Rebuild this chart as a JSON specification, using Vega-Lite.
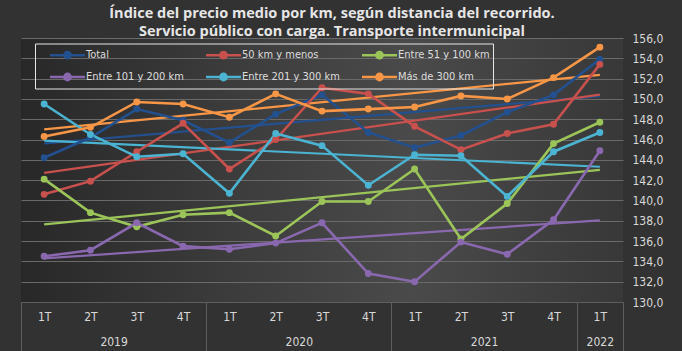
{
  "$schema": "https://vega.github.io/schema/vega-lite/v6.json",
  "width": 602,
  "height": 264,
  "autosize": {"type": "none"},
  "padding": {"left": 21, "top": 38, "right": 59, "bottom": 49},
  "background": "#323232",
  "view": {
    "stroke": null,
    "fill": {
      "gradient": "linear", "x1": 0, "x2": 1, "y1": 0, "y2": 0,
      "stops": [
        {"offset": 0, "color": "#282828"},
        {"offset": 0.35, "color": "#3c3c3c"},
        {"offset": 0.65, "color": "#4a4a4a"},
        {"offset": 1, "color": "#383838"}
      ]
    }
  },
  "title": {
    "text": ["Índice del precio medio por km, según distancia del recorrido.", "Servicio público con carga. Transporte intermunicipal"],
    "anchor": "middle",
    "frame": "group",
    "font": "Open Sans",
    "fontSize": 14.5,
    "fontWeight": "bold",
    "color": "#e6e6e6",
    "lineHeight": 18,
    "offset": 3,
    "dx": 10,
    "dy": 10
  },
  "datasets": {
    "indice": [
      {"t": 1, "trimestre": "1T", "anio": "2019", "serie": "Total", "valor": 144.2},
      {"t": 2, "trimestre": "2T", "anio": "2019", "serie": "Total", "valor": 146.2},
      {"t": 3, "trimestre": "3T", "anio": "2019", "serie": "Total", "valor": 149.0},
      {"t": 4, "trimestre": "4T", "anio": "2019", "serie": "Total", "valor": 147.9},
      {"t": 5, "trimestre": "1T", "anio": "2020", "serie": "Total", "valor": 145.7},
      {"t": 6, "trimestre": "2T", "anio": "2020", "serie": "Total", "valor": 148.5},
      {"t": 7, "trimestre": "3T", "anio": "2020", "serie": "Total", "valor": 150.4},
      {"t": 8, "trimestre": "4T", "anio": "2020", "serie": "Total", "valor": 146.7},
      {"t": 9, "trimestre": "1T", "anio": "2021", "serie": "Total", "valor": 145.2},
      {"t": 10, "trimestre": "2T", "anio": "2021", "serie": "Total", "valor": 146.4},
      {"t": 11, "trimestre": "3T", "anio": "2021", "serie": "Total", "valor": 148.7},
      {"t": 12, "trimestre": "4T", "anio": "2021", "serie": "Total", "valor": 150.4},
      {"t": 13, "trimestre": "1T", "anio": "2022", "serie": "Total", "valor": 153.9},
      {"t": 1, "trimestre": "1T", "anio": "2019", "serie": "50 km y menos", "valor": 140.6},
      {"t": 2, "trimestre": "2T", "anio": "2019", "serie": "50 km y menos", "valor": 141.9},
      {"t": 3, "trimestre": "3T", "anio": "2019", "serie": "50 km y menos", "valor": 144.8},
      {"t": 4, "trimestre": "4T", "anio": "2019", "serie": "50 km y menos", "valor": 147.6},
      {"t": 5, "trimestre": "1T", "anio": "2020", "serie": "50 km y menos", "valor": 143.1},
      {"t": 6, "trimestre": "2T", "anio": "2020", "serie": "50 km y menos", "valor": 146.0},
      {"t": 7, "trimestre": "3T", "anio": "2020", "serie": "50 km y menos", "valor": 151.1},
      {"t": 8, "trimestre": "4T", "anio": "2020", "serie": "50 km y menos", "valor": 150.5},
      {"t": 9, "trimestre": "1T", "anio": "2021", "serie": "50 km y menos", "valor": 147.3},
      {"t": 10, "trimestre": "2T", "anio": "2021", "serie": "50 km y menos", "valor": 145.0},
      {"t": 11, "trimestre": "3T", "anio": "2021", "serie": "50 km y menos", "valor": 146.6},
      {"t": 12, "trimestre": "4T", "anio": "2021", "serie": "50 km y menos", "valor": 147.5},
      {"t": 13, "trimestre": "1T", "anio": "2022", "serie": "50 km y menos", "valor": 153.4},
      {"t": 1, "trimestre": "1T", "anio": "2019", "serie": "Entre 51 y 100 km", "valor": 142.1},
      {"t": 2, "trimestre": "2T", "anio": "2019", "serie": "Entre 51 y 100 km", "valor": 138.8},
      {"t": 3, "trimestre": "3T", "anio": "2019", "serie": "Entre 51 y 100 km", "valor": 137.4},
      {"t": 4, "trimestre": "4T", "anio": "2019", "serie": "Entre 51 y 100 km", "valor": 138.6},
      {"t": 5, "trimestre": "1T", "anio": "2020", "serie": "Entre 51 y 100 km", "valor": 138.8},
      {"t": 6, "trimestre": "2T", "anio": "2020", "serie": "Entre 51 y 100 km", "valor": 136.5},
      {"t": 7, "trimestre": "3T", "anio": "2020", "serie": "Entre 51 y 100 km", "valor": 139.9},
      {"t": 8, "trimestre": "4T", "anio": "2020", "serie": "Entre 51 y 100 km", "valor": 139.9},
      {"t": 9, "trimestre": "1T", "anio": "2021", "serie": "Entre 51 y 100 km", "valor": 143.1},
      {"t": 10, "trimestre": "2T", "anio": "2021", "serie": "Entre 51 y 100 km", "valor": 136.2},
      {"t": 11, "trimestre": "3T", "anio": "2021", "serie": "Entre 51 y 100 km", "valor": 139.7},
      {"t": 12, "trimestre": "4T", "anio": "2021", "serie": "Entre 51 y 100 km", "valor": 145.6},
      {"t": 13, "trimestre": "1T", "anio": "2022", "serie": "Entre 51 y 100 km", "valor": 147.7},
      {"t": 1, "trimestre": "1T", "anio": "2019", "serie": "Entre 101 y 200 km", "valor": 134.5},
      {"t": 2, "trimestre": "2T", "anio": "2019", "serie": "Entre 101 y 200 km", "valor": 135.1},
      {"t": 3, "trimestre": "3T", "anio": "2019", "serie": "Entre 101 y 200 km", "valor": 137.8},
      {"t": 4, "trimestre": "4T", "anio": "2019", "serie": "Entre 101 y 200 km", "valor": 135.5},
      {"t": 5, "trimestre": "1T", "anio": "2020", "serie": "Entre 101 y 200 km", "valor": 135.2},
      {"t": 6, "trimestre": "2T", "anio": "2020", "serie": "Entre 101 y 200 km", "valor": 135.8},
      {"t": 7, "trimestre": "3T", "anio": "2020", "serie": "Entre 101 y 200 km", "valor": 137.8},
      {"t": 8, "trimestre": "4T", "anio": "2020", "serie": "Entre 101 y 200 km", "valor": 132.8},
      {"t": 9, "trimestre": "1T", "anio": "2021", "serie": "Entre 101 y 200 km", "valor": 132.0},
      {"t": 10, "trimestre": "2T", "anio": "2021", "serie": "Entre 101 y 200 km", "valor": 135.9},
      {"t": 11, "trimestre": "3T", "anio": "2021", "serie": "Entre 101 y 200 km", "valor": 134.7},
      {"t": 12, "trimestre": "4T", "anio": "2021", "serie": "Entre 101 y 200 km", "valor": 138.1},
      {"t": 13, "trimestre": "1T", "anio": "2022", "serie": "Entre 101 y 200 km", "valor": 144.9},
      {"t": 1, "trimestre": "1T", "anio": "2019", "serie": "Entre 201 y 300 km", "valor": 149.5},
      {"t": 2, "trimestre": "2T", "anio": "2019", "serie": "Entre 201 y 300 km", "valor": 146.5},
      {"t": 3, "trimestre": "3T", "anio": "2019", "serie": "Entre 201 y 300 km", "valor": 144.3},
      {"t": 4, "trimestre": "4T", "anio": "2019", "serie": "Entre 201 y 300 km", "valor": 144.6},
      {"t": 5, "trimestre": "1T", "anio": "2020", "serie": "Entre 201 y 300 km", "valor": 140.7},
      {"t": 6, "trimestre": "2T", "anio": "2020", "serie": "Entre 201 y 300 km", "valor": 146.6},
      {"t": 7, "trimestre": "3T", "anio": "2020", "serie": "Entre 201 y 300 km", "valor": 145.4},
      {"t": 8, "trimestre": "4T", "anio": "2020", "serie": "Entre 201 y 300 km", "valor": 141.5},
      {"t": 9, "trimestre": "1T", "anio": "2021", "serie": "Entre 201 y 300 km", "valor": 144.5},
      {"t": 10, "trimestre": "2T", "anio": "2021", "serie": "Entre 201 y 300 km", "valor": 144.4},
      {"t": 11, "trimestre": "3T", "anio": "2021", "serie": "Entre 201 y 300 km", "valor": 140.4},
      {"t": 12, "trimestre": "4T", "anio": "2021", "serie": "Entre 201 y 300 km", "valor": 144.8},
      {"t": 13, "trimestre": "1T", "anio": "2022", "serie": "Entre 201 y 300 km", "valor": 146.7},
      {"t": 1, "trimestre": "1T", "anio": "2019", "serie": "Más de 300 km", "valor": 146.3},
      {"t": 2, "trimestre": "2T", "anio": "2019", "serie": "Más de 300 km", "valor": 147.2},
      {"t": 3, "trimestre": "3T", "anio": "2019", "serie": "Más de 300 km", "valor": 149.7},
      {"t": 4, "trimestre": "4T", "anio": "2019", "serie": "Más de 300 km", "valor": 149.5},
      {"t": 5, "trimestre": "1T", "anio": "2020", "serie": "Más de 300 km", "valor": 148.2},
      {"t": 6, "trimestre": "2T", "anio": "2020", "serie": "Más de 300 km", "valor": 150.5},
      {"t": 7, "trimestre": "3T", "anio": "2020", "serie": "Más de 300 km", "valor": 148.8},
      {"t": 8, "trimestre": "4T", "anio": "2020", "serie": "Más de 300 km", "valor": 149.0},
      {"t": 9, "trimestre": "1T", "anio": "2021", "serie": "Más de 300 km", "valor": 149.2},
      {"t": 10, "trimestre": "2T", "anio": "2021", "serie": "Más de 300 km", "valor": 150.3},
      {"t": 11, "trimestre": "3T", "anio": "2021", "serie": "Más de 300 km", "valor": 150.0},
      {"t": 12, "trimestre": "4T", "anio": "2021", "serie": "Más de 300 km", "valor": 152.1},
      {"t": 13, "trimestre": "1T", "anio": "2022", "serie": "Más de 300 km", "valor": 155.1}
    ]
  },
  "data": {"name": "indice"},
  "encoding": {
    "y": {
      "field": "valor",
      "type": "quantitative",
      "scale": {"domain": [130, 156], "nice": false, "zero": false},
      "axis": {
        "orient": "right",
        "title": null,
        "values": [130, 132, 134, 136, 138, 140, 142, 144, 146, 148, 150, 152, 154, 156],
        "labelExpr": "replace(format(datum.value, '.1f'), '.', ',')",
        "grid": true,
        "gridColor": "#6a6a6a",
        "gridWidth": 1,
        "domain": false,
        "ticks": false,
        "labelPadding": 9,
        "labelAlign": "left"
      }
    }
  },
  "layer": [
    {
      "transform": [{"regression": "valor", "on": "t", "groupby": ["serie"], "method": "linear"}],
      "mark": {"type": "line", "strokeWidth": 2.2},
      "encoding": {
        "x": {
          "field": "t",
          "type": "quantitative",
          "scale": {"domain": [0.5, 13.5], "nice": false, "zero": false},
          "axis": {
            "orient": "bottom",
            "title": null,
            "values": [2.5, 6.5, 10.5, 13],
            "labelExpr": "datum.value == 2.5 ? '2019' : datum.value == 6.5 ? '2020' : datum.value == 10.5 ? '2021' : '2022'",
            "grid": false,
            "domain": false,
            "ticks": false,
            "labelPadding": 34
          }
        },
        "color": {
          "field": "serie",
          "type": "nominal",
          "sort": ["Total", "50 km y menos", "Entre 51 y 100 km", "Entre 101 y 200 km", "Entre 201 y 300 km", "Más de 300 km"],
          "scale": {
            "domain": ["Total", "50 km y menos", "Entre 51 y 100 km", "Entre 101 y 200 km", "Entre 201 y 300 km", "Más de 300 km"],
            "range": ["#23508f", "#c8504d", "#9bc459", "#8a68b0", "#4bb4d2", "#f79646"]
          },
          "legend": {
            "title": null,
            "orient": "none",
            "legendX": 14,
            "legendY": 5.5,
            "direction": "horizontal",
            "columns": 3,
            "gridAlign": "all",
            "symbolType": "M0.5,0L5.5,0M2.55,0A0.45,0.45 0 1,0 3.45,0A0.45,0.45 0 1,0 2.55,0",
            "symbolSize": 196,
            "symbolStrokeWidth": 2.5,
            "labelOffset": 31,
            "columnPadding": 10,
            "rowPadding": 5,
            "padding": 3,
            "strokeColor": "#e6e6e6",
            "labelColor": "#dddddd",
            "labelFontSize": 11,
            "labelFont": "DejaVu Sans Condensed, Roboto, sans-serif"
          }
        }
      }
    },
    {
      "mark": {"type": "line", "strokeWidth": 2.6, "point": {"filled": true, "size": 48}},
      "encoding": {
        "x": {
          "field": "t",
          "type": "quantitative",
          "scale": {"domain": [0.5, 13.5], "nice": false, "zero": false},
          "axis": {
            "orient": "bottom",
            "title": null,
            "values": [1, 2, 3, 4, 5, 6, 7, 8, 9, 10, 11, 12, 13],
            "labelExpr": "((datum.value - 1) % 4 + 1) + 'T'",
            "grid": false,
            "domain": true,
            "domainColor": "#5e5e5e",
            "ticks": false,
            "labelPadding": 9
          }
        },
        "color": {
          "field": "serie",
          "type": "nominal",
          "sort": ["Total", "50 km y menos", "Entre 51 y 100 km", "Entre 101 y 200 km", "Entre 201 y 300 km", "Más de 300 km"],
          "scale": {
            "domain": ["Total", "50 km y menos", "Entre 51 y 100 km", "Entre 101 y 200 km", "Entre 201 y 300 km", "Más de 300 km"],
            "range": ["#23508f", "#c8504d", "#9bc459", "#8a68b0", "#4bb4d2", "#f79646"]
          },
          "legend": {
            "title": null,
            "orient": "none",
            "legendX": 14,
            "legendY": 5.5,
            "direction": "horizontal",
            "columns": 3,
            "gridAlign": "all",
            "symbolType": "M0.5,0L5.5,0M2.55,0A0.45,0.45 0 1,0 3.45,0A0.45,0.45 0 1,0 2.55,0",
            "symbolSize": 196,
            "symbolStrokeWidth": 2.5,
            "labelOffset": 31,
            "columnPadding": 10,
            "rowPadding": 5,
            "padding": 3,
            "strokeColor": "#e6e6e6",
            "labelColor": "#dddddd",
            "labelFontSize": 11,
            "labelFont": "DejaVu Sans Condensed, Roboto, sans-serif"
          }
        }
      }
    },
    {
      "mark": {"type": "point", "opacity": 0},
      "encoding": {
        "x": {
          "field": "t",
          "type": "quantitative",
          "scale": {"domain": [0.5, 13.5], "nice": false, "zero": false},
          "axis": {
            "orient": "bottom",
            "title": null,
            "values": [0.5, 4.5, 8.5, 12.5, 13.5],
            "labels": false,
            "grid": false,
            "domain": false,
            "ticks": true,
            "tickSize": 49,
            "tickColor": "#5e5e5e",
            "tickWidth": 1
          }
        }
      }
    }
  ],
  "resolve": {"axis": {"x": "independent"}},
  "config": {
    "axis": {
      "labelColor": "#d9d9d9",
      "labelFont": "DejaVu Sans Condensed, Roboto, sans-serif",
      "labelFontSize": 12
    }
  }
}
